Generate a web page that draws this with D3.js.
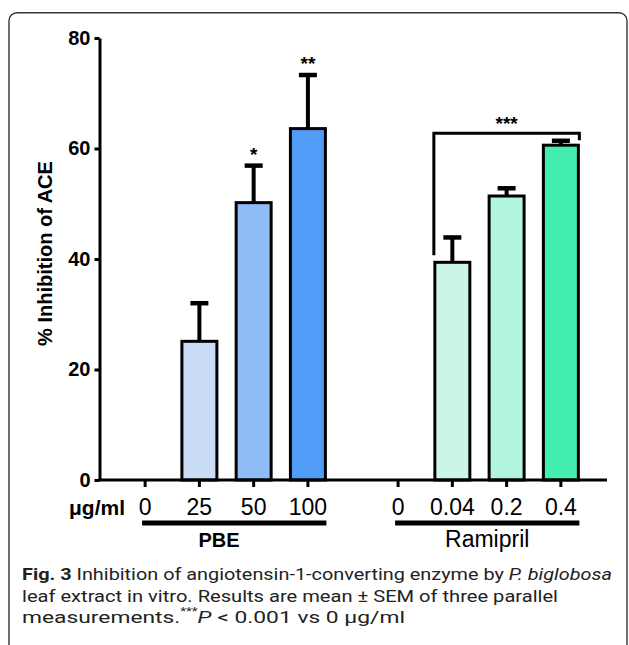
<!DOCTYPE html>
<html>
<head>
<meta charset="utf-8">
<script src="https://cdnjs.cloudflare.com/ajax/libs/d3/7.8.5/d3.min.js"></script>
<style>
  html, body { margin: 0; padding: 0; background: #fff; }
  svg { display: block; }
</style>
</head>
<body>
<script>
// ---- data ----
const groups = ["PBE", "Ramipril"];
const pbeDoses = ["0", "25", "50", "100"];
const pbeMeans = [0, 25.1, 50.2, 63.6];
const pbeSem = [0, 6.9, 6.7, 9.7];
const pbeStars = ["", "", "*", "**"];
const pbeColors = ["#ffffff", "#c9ddf7", "#8fbbf7", "#519cf7"];

const ramDoses = ["0", "0.04", "0.2", "0.4"];
const ramMeans = [0, 39.4, 51.4, 60.6];
const ramSem = [0, 4.5, 1.4, 0.8];
const ramColors = ["#ffffff", "#cbf6e7", "#b0f5dc", "#44eeae"];

const yTicks = [0, 20, 40, 60, 80];
const yTitle = "% Inhibition of ACE";
const unitLabel = "\u03bcg/ml";
const bracketStars = "***";

const W = 629, H = 645;
const svg = d3.select("body").append("svg").attr("width", W).attr("height", H);

// frame
svg.append("rect").attr("x", 9).attr("y", 12.7).attr("width", 618).attr("height", 700)
  .attr("rx", 8).attr("fill", "none").attr("stroke", "#333").attr("stroke-width", 1.4);

const FONT = "'Liberation Sans', Arial, Helvetica, sans-serif";

// scales
const y = d3.scaleLinear().domain([0, 80]).range([480, 38]);
const gx = d3.scaleBand().domain(groups).range([118, 588]).paddingInner(0.142).paddingOuter(0);
const ix = d3.scaleBand().domain([0, 1, 2, 3]).range([0, gx.bandwidth()]).paddingInner(0.3).paddingOuter(0.15);

const data = [];
pbeDoses.forEach((d, i) => data.push({g: "PBE", i, dose: d, mean: pbeMeans[i], sem: pbeSem[i], star: pbeStars[i], color: pbeColors[i]}));
ramDoses.forEach((d, i) => data.push({g: "Ramipril", i, dose: d, mean: ramMeans[i], sem: ramSem[i], star: "", color: ramColors[i]}));
const cx = d => gx(d.g) + ix(d.i) + ix.bandwidth() / 2;
const bw = ix.bandwidth() - 3;

// bars
const bars = data.filter(d => d.mean > 0);
svg.append("g").selectAll("rect").data(bars).join("rect")
  .attr("x", d => cx(d) - bw / 2).attr("width", bw)
  .attr("y", d => y(d.mean)).attr("height", d => y(0) - y(d.mean))
  .attr("fill", d => d.color).attr("stroke", "#000").attr("stroke-width", 3);

// error bars (upper only)
const eb = svg.append("g");
eb.selectAll("line.stem").data(bars).join("line").attr("class", "stem")
  .attr("x1", cx).attr("x2", cx).attr("y1", d => y(d.mean)).attr("y2", d => y(d.mean + d.sem))
  .attr("stroke", "#000").attr("stroke-width", 4);
eb.selectAll("line.cap").data(bars).join("line").attr("class", "cap")
  .attr("x1", d => cx(d) - 9).attr("x2", d => cx(d) + 9)
  .attr("y1", d => y(d.mean + d.sem)).attr("y2", d => y(d.mean + d.sem))
  .attr("stroke", "#000").attr("stroke-width", 4.5);

// stars
svg.append("g").selectAll("text").data(bars.filter(d => d.star)).join("text")
  .attr("x", cx).attr("y", d => y(d.mean + d.sem) - 5)
  .attr("text-anchor", "middle").attr("font-family", FONT).attr("font-weight", "bold")
  .attr("font-size", 19).text(d => d.star);

// bracket
const r1 = data.find(d => d.g === "Ramipril" && d.i === 1);
const r3 = data.find(d => d.g === "Ramipril" && d.i === 3);
const bL = cx(r1) - bw / 2 - 1, bR = cx(r3) + bw / 2 + 1, bY = 133.3;
svg.append("path")
  .attr("d", `M${bL},${y(r1.mean) - 7}V${bY}H${bR}V${y(r3.mean) - 5}`)
  .attr("fill", "none").attr("stroke", "#000").attr("stroke-width", 3);
svg.append("text").attr("x", (bL + bR) / 2).attr("y", bY - 3).attr("text-anchor", "middle")
  .attr("font-family", FONT).attr("font-weight", "bold").attr("font-size", 19).text(bracketStars);

// y axis
const yAxis = svg.append("g").attr("transform", "translate(99.5,0)")
  .call(d3.axisLeft(y).tickValues(yTicks).tickSize(5).tickPadding(4).tickSizeOuter(0));
yAxis.select(".domain").attr("stroke", "#000").attr("stroke-width", 3);
yAxis.selectAll(".tick line").attr("stroke", "#000").attr("stroke-width", 3);
yAxis.selectAll(".tick text").attr("font-family", FONT).attr("font-weight", "bold")
  .attr("font-size", 20).attr("fill", "#000");

// x axis line
svg.append("line").attr("x1", 98).attr("x2", 607).attr("y1", y(0)).attr("y2", y(0))
  .attr("stroke", "#000").attr("stroke-width", 3);
// x ticks
svg.append("g").selectAll("line").data(data).join("line")
  .attr("x1", cx).attr("x2", cx).attr("y1", y(0)).attr("y2", y(0) + 7)
  .attr("stroke", "#000").attr("stroke-width", 3);
svg.append("g").selectAll("text").data(data).join("text")
  .attr("x", cx).attr("y", 515).attr("text-anchor", "middle")
  .attr("font-family", FONT).attr("font-size", 23).attr("fill", "#000").text(d => d.dose);

svg.append("text").attr("x", 125).attr("y", 515).attr("text-anchor", "end")
  .attr("font-family", FONT).attr("font-weight", "bold").attr("font-size", 21).text(unitLabel);

// group underlines
groups.forEach((g, gi) => {
  const first = data.find(d => d.g === g && d.i === 0);
  const last = data.find(d => d.g === g && d.i === 3);
  const x1 = cx(first) - 3, x2 = cx(last) + bw / 2 + 1;
  svg.append("line").attr("x1", x1).attr("x2", x2).attr("y1", 523).attr("y2", 523)
    .attr("stroke", "#000").attr("stroke-width", 5);
  svg.append("text")
    .attr("x", gi === 0 ? 219 : (x1 + x2) / 2).attr("y", 547).attr("text-anchor", "middle")
    .attr("font-family", FONT).attr("font-weight", gi === 0 ? "bold" : "normal")
    .attr("font-size", gi === 0 ? 20 : 23).text(g);
});

// y title
svg.append("text").attr("transform", "translate(52,253.5) rotate(-90)")
  .attr("text-anchor", "middle").attr("font-family", FONT).attr("font-weight", "bold")
  .attr("font-size", 20).text(yTitle);

// caption
const CF = "Roboto, 'Noto Sans', sans-serif";
const c1 = svg.append("text").attr("x", 22).attr("y", 580).attr("font-family", CF).attr("font-size", 17)
  .attr("textLength", 590).attr("lengthAdjust", "spacingAndGlyphs").attr("fill", "#222");
c1.append("tspan").attr("font-weight", "bold").text("Fig. 3");
c1.append("tspan").text(" Inhibition of angiotensin-1-converting enzyme by ");
c1.append("tspan").attr("font-style", "italic").text("P. biglobosa");

svg.append("text").attr("x", 22).attr("y", 601.5).attr("font-family", CF).attr("font-size", 17)
  .attr("textLength", 536).attr("lengthAdjust", "spacingAndGlyphs").attr("fill", "#222")
  .text("leaf extract in vitro. Results are mean \u00b1 SEM of three parallel");

const c3 = svg.append("text").attr("x", 22).attr("y", 623).attr("font-family", CF).attr("font-size", 17)
  .attr("textLength", 383).attr("lengthAdjust", "spacingAndGlyphs").attr("fill", "#222");
c3.append("tspan").text("measurements.");
c3.append("tspan").attr("font-size", 10).attr("dy", -8).text("***");
c3.append("tspan").attr("font-style", "italic").attr("dy", 8).text("P");
c3.append("tspan").text(" < 0.001 vs 0 \u03bcg/ml");
</script>
</body>
</html>
